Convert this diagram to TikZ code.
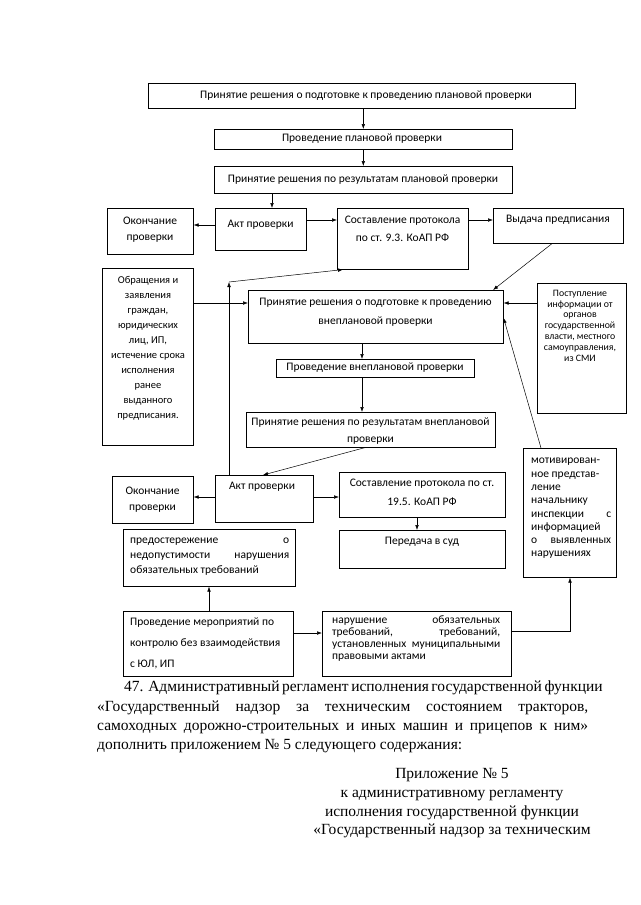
\documentclass[tikz,border=0pt]{standalone}
\usepackage{fontspec}
\setmainfont{Liberation Serif}
\newfontfamily\cfont{Carlito}
\usetikzlibrary{arrows.meta,calc}
\begin{document}
\begin{tikzpicture}[x=1pt,y=-1pt,
  box/.style={draw,line width=0.6pt,inner sep=0pt,anchor=north west},
  arr/.style={draw,line width=0.5pt,-{Latex[length=5pt,width=3.6pt]}},
  t/.style={inner sep=0pt,align=center,font=\cfont\fontsize{11.5}{14}\selectfont},
  para/.style={inner sep=0pt,anchor=base west,font=\fontsize{15.5}{20}\selectfont},
  app/.style={inner sep=0pt,anchor=base,font=\fontsize{15.5}{20}\selectfont},
]
\useasboundingbox[fill=white] (0,0) rectangle (640,905);

% boxes
\node[box,minimum width=427pt,minimum height=25pt] (b1) at (148,83) {};
\node[box,minimum width=298pt,minimum height=20pt] (b2) at (214,129) {};
\node[box,minimum width=298pt,minimum height=27pt] (b3) at (214,166) {};
\node[box,minimum width=86pt,minimum height=46pt] (ok1) at (107,208) {};
\node[box,minimum width=91pt,minimum height=42pt] (akt1) at (215,208) {};
\node[box,minimum width=131pt,minimum height=61pt] (prot1) at (337,208) {};
\node[box,minimum width=130pt,minimum height=35pt] (vyd) at (493,208) {};
\node[box,minimum width=91pt,minimum height=177pt] (obr) at (102,268) {};
\node[box,minimum width=255pt,minimum height=53pt] (vnp1) at (248,290) {};
\node[box,minimum width=89pt,minimum height=130pt] (post) at (537,283) {};
\node[box,minimum width=198pt,minimum height=18pt] (vnp2) at (276,359) {};
\node[box,minimum width=249pt,minimum height=35pt] (vnp3) at (246,412) {};
\node[box,minimum width=81pt,minimum height=47pt] (ok2) at (112,476) {};
\node[box,minimum width=98pt,minimum height=47pt] (akt2) at (215,475) {};
\node[box,minimum width=166pt,minimum height=45pt] (prot2) at (339,472) {};
\node[box,minimum width=166pt,minimum height=38pt] (sud) at (339,530) {};
\node[box,minimum width=93pt,minimum height=129pt] (motiv) at (523,448) {};
\node[box,minimum width=172pt,minimum height=57pt] (pred) at (123,529) {};
\node[box,minimum width=170pt,minimum height=65pt] (mer) at (123,611) {};
\node[box,minimum width=189pt,minimum height=65pt] (nar) at (322,611) {};

% texts
\node[t] (b1t) at (366,95.5) {Принятие решения о подготовке к проведению плановой проверки};
\node[t] (b2t) at (362,139) {Проведение плановой проверки};
\node[t] (b3t) at (363,179.5) {Принятие решения по результатам плановой проверки};
\node[t,font=\cfont\fontsize{11.5}{16}\selectfont] (ok1t) at (150,230) {Окончание\\проверки};
\node[t] (akt1t) at (260.5,225) {Акт проверки};
\node[t,font=\cfont\fontsize{11.5}{18}\selectfont] (prot1t) at (402.5,229) {Составление протокола\\по ст. 9.3. КоАП РФ};
\node[t] (vydt) at (558,220) {Выдача предписания};
\node[t,font=\cfont\fontsize{10.5}{15}\selectfont] (obrt) at (148,348.5) {Обращения и\\заявления\\граждан,\\юридических\\лиц, ИП,\\истечение срока\\исполнения\\ранее\\выданного\\предписания.};
\node[t,font=\cfont\fontsize{9.8}{10.8}\selectfont] (postt) at (580,325.5) {Поступление\\информации от\\органов\\государственной\\власти, местного\\самоуправления,\\из СМИ};
\node[t,font=\cfont\fontsize{11.5}{19}\selectfont] (vnp1t) at (375.5,312.5) {Принятие решения о подготовке к проведению\\внеплановой проверки};
\node[t] (vnp2t) at (375,368) {Проведение внеплановой проверки};
\node[t,font=\cfont\fontsize{11.5}{17}\selectfont] (vnp3t) at (370.5,431.5) {Принятие решения по результатам внеплановой\\проверки};
\node[t,font=\cfont\fontsize{11.5}{16}\selectfont] (ok2t) at (152.5,500) {Окончание\\проверки};
\node[t] (akt2t) at (262,487) {Акт проверки};
\node[t,font=\cfont\fontsize{11.5}{19}\selectfont] (prot2t) at (422,492.5) {Составление протокола по ст.\\19.5. КоАП РФ};
\node[t] (sudt) at (422,542) {Передача в суд};
\node[t,anchor=west,align=left,font=\cfont\fontsize{11.5}{13.3}\selectfont] (motivt) at (531,508.5) {мотивирован-\\ное представ-\\ление\\начальнику\\\makebox[80pt][s]{инспекции \hfill с}\\информацией\\\makebox[80pt][s]{о выявленных}\\нарушениях};
\node[t,anchor=west,align=left,font=\cfont\fontsize{11.5}{15}\selectfont] (predt) at (130,557) {\makebox[159pt][s]{предостережение \hfill о}\\\makebox[159pt][s]{недопустимости \hfill нарушения}\\обязательных требований};
\node[t,anchor=west,align=left,font=\cfont\fontsize{11.5}{21}\selectfont] (mert) at (130,643) {Проведение мероприятий по\\контролю без взаимодействия\\с ЮЛ, ИП};
\node[t,anchor=west,align=left,font=\cfont\fontsize{11.5}{11.8}\selectfont] (nart) at (332,638.5) {\makebox[168pt][s]{нарушение \hfill обязательных}\\\makebox[168pt][s]{требований, \hfill требований,}\\\makebox[168pt][s]{установленных муниципальными}\\правовыми актами};

% coordinates
\coordinate (x272) at (272,0);
\coordinate (y225) at (0,225);
\coordinate (y220) at (0,220);
\coordinate (x552) at (552,0);
\coordinate (x493) at (493,0);
\coordinate (c1) at (229,282);
\coordinate (x343) at (343,0);
\coordinate (y303) at (0,303);
\coordinate (x541) at (541,0);
\coordinate (y318) at (0,318);
\coordinate (x362) at (362,0);
\coordinate (x365) at (365,0);
\coordinate (x263) at (263,0);
\coordinate (y497) at (0,497);
\coordinate (x417) at (417,0);
\coordinate (x209) at (209,0);
\coordinate (y633) at (0,633);
\coordinate (y631) at (0,631);
\coordinate (x570) at (570,0);

% connectors
\draw[arr] (b1.south -| b2.north) -- (b2.north);
\draw[arr] (b2.south) -- (b3.north);
\draw[arr] (b3.south -| x272) -- (akt1.north -| x272);
\draw[arr] (akt1.west |- y225) -- (ok1.east |- y225);
\draw[arr] (akt1.east |- y220) -- (prot1.west |- y220);
\draw[arr] (prot1.east |- y220) -- (vyd.west |- y220);
\draw[arr] (vyd.south -| x552) -- (vnp1.north -| x493);
\draw[arr] (akt2.north -| c1) -- (c1);
\draw[arr] (c1) -- (prot1.south -| x343);
\draw[arr] (obr.east |- y303) -- (vnp1.west |- y303);
\draw[arr] (post.west |- y303) -- (vnp1.east |- y303);
\draw[arr] (motiv.north -| x541) -- (vnp1.east |- y318);
\draw[arr] (vnp1.south -| x362) -- (vnp2.north -| x362);
\draw[arr] (vnp2.south -| x362) -- (vnp3.north -| x362);
\draw[arr] (vnp3.south -| x365) -- (akt2.north -| x263);
\draw[arr] (akt2.west |- y497) -- (ok2.east |- y497);
\draw[arr] (akt2.east |- y497) -- (prot2.west |- y497);
\draw[arr] (prot2.south -| x417) -- (sud.north -| x417);
\draw[arr] (mer.north -| x209) -- (pred.south -| x209);
\draw[arr] (mer.east |- y633) -- (nar.west |- y633);
\draw[arr] (nar.east |- y631) -| (motiv.south -| x570);

% paragraph
\node[para] (p1) at (124,691) {\makebox[464pt][s]{47. Административный регламент исполнения государственной функции}};
\node[para] (p2) at (97,711) {\makebox[491pt][s]{«Государственный надзор за техническим состоянием тракторов,}};
\node[para] (p3) at (97,730) {\makebox[491pt][s]{самоходных дорожно-строительных и иных машин и прицепов к ним»}};
\node[para] (p4) at (97,749) {дополнить приложением № 5 следующего содержания:};
\node[app] (a1) at (452,778) {Приложение № 5};
\node[app] (a2) at (452,797) {к административному регламенту};
\node[app] (a3) at (452,816) {исполнения государственной функции};
\node[app] (a4) at (452,834) {«Государственный надзор за техническим};
\end{tikzpicture}
\end{document}
